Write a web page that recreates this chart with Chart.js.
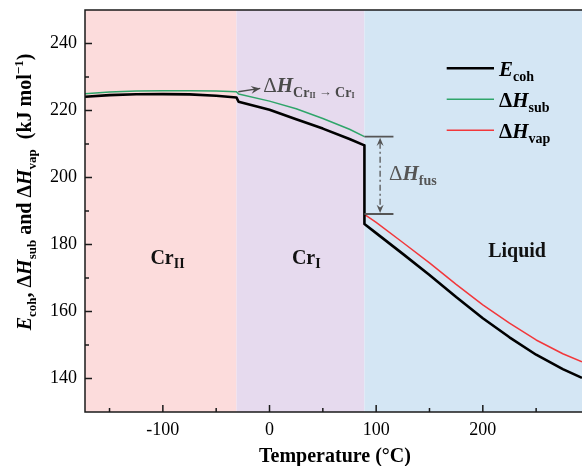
<!DOCTYPE html>
<html>
<head>
<meta charset="utf-8">
<script src="https://cdn.jsdelivr.net/npm/chart.js@4.4.0/dist/chart.umd.min.js"></script>
<style>
  html, body { margin: 0; padding: 0; background: #fff; }
  canvas { display: block; }
</style>
</head>
<body>
<canvas id="cohChart" width="582" height="466"></canvas>
<script>
// E_coh (black) - solid phases, step at Cr_II -> Cr_I, drop at melting
var tempCoh = [-173, -150, -125, -100, -75, -50, -31, -29, 0, 25, 50, 75, 89, 89, 100, 125, 150, 175, 200, 225, 250, 275, 293];
var eCoh    = [224.1, 224.6, 224.85, 224.9, 224.8, 224.4, 223.9, 222.6, 220.2, 217.4, 214.6, 211.5, 209.6, 186.1, 183.4, 177.2, 170.9, 164.3, 158.0, 152.3, 147.1, 142.8, 140.2];

// dH_sub (green)
var tempSub = [-173, -150, -125, -100, -75, -50, -31, -29, 0, 25, 50, 75, 89];
var hSub    = [225.0, 225.5, 225.8, 225.9, 225.9, 225.8, 225.6, 224.9, 222.8, 220.5, 217.6, 214.4, 212.2];

// dH_vap (red)
var tempVap = [89, 100, 125, 150, 175, 200, 225, 250, 275, 293];
var hVap    = [189.0, 186.6, 180.6, 174.5, 168.1, 162.0, 156.5, 151.5, 147.4, 145.0];

var phaseEdges  = [-173, -31, 89, 293];
var phaseColors = ['#fcdcdc', '#e6daee', '#d4e6f4'];

var xTicks = [-100, 0, 100, 200];
var xMinor = [-150, -50, 50, 150, 250];
var yTicks = [140, 160, 180, 200, 220, 240];
var yMinor = [150, 170, 190, 210, 230];

var hFus = [212.2, 189.1];   // bracket ends for dH_fus

function pts(xs, ys) {
    return xs.map(function (x, i) { return { x: x, y: ys[i] }; });
}

var SERIF = '"Liberation Serif", "Times New Roman", serif';
function fnt(size, style) { return (style || '') + ' ' + size + 'px ' + SERIF; }

function rich(ctx, parts, x, y, align) {
    var w = 0;
    parts.forEach(function (p) { ctx.font = p.f; w += ctx.measureText(p.t).width; });
    var cx = align === 'center' ? x - w / 2 : x;
    parts.forEach(function (p) {
        ctx.font = p.f;
        ctx.fillText(p.t, cx, y + (p.dy || 0));
        cx += ctx.measureText(p.t).width;
    });
}

function arrowHead(ctx, x, y, ang, size) {
    ctx.beginPath();
    ctx.moveTo(x, y);
    ctx.lineTo(x - size * Math.cos(ang - 0.4), y - size * Math.sin(ang - 0.4));
    ctx.lineTo(x - size * 0.6 * Math.cos(ang), y - size * 0.6 * Math.sin(ang));
    ctx.lineTo(x - size * Math.cos(ang + 0.4), y - size * Math.sin(ang + 0.4));
    ctx.closePath();
    ctx.fill();
}

var legendParts = [
    [{ t: 'E', f: fnt(21, 'italic bold') }, { t: 'coh', f: fnt(14, 'bold'), dy: 5 }],
    [{ t: 'Δ', f: fnt(21, 'bold') }, { t: 'H', f: fnt(21, 'italic bold') }, { t: 'sub', f: fnt(14, 'bold'), dy: 5 }],
    [{ t: 'Δ', f: fnt(21, 'bold') }, { t: 'H', f: fnt(21, 'italic bold') }, { t: 'vap', f: fnt(14, 'bold'), dy: 5 }]
];

var deco = {
    id: 'deco',
    beforeDatasetsDraw: function (chart) {
        var ctx = chart.ctx, a = chart.chartArea, xs = chart.scales.x;
        ctx.save();
        for (var i = 0; i < phaseColors.length; i++) {
            var x0 = xs.getPixelForValue(phaseEdges[i]);
            var x1 = xs.getPixelForValue(phaseEdges[i + 1]);
            ctx.fillStyle = phaseColors[i];
            ctx.fillRect(x0, a.top, x1 - x0, a.bottom - a.top);
        }
        ctx.restore();
    },
    afterDatasetsDraw: function (chart) {
        var ctx = chart.ctx, a = chart.chartArea, xs = chart.scales.x, ys = chart.scales.y;
        var X = function (v) { return xs.getPixelForValue(v); };
        var Y = function (v) { return ys.getPixelForValue(v); };
        ctx.save();

        // frame + inward ticks
        ctx.strokeStyle = '#1a1a1a';
        ctx.lineWidth = 1.5;
        ctx.beginPath();
        ctx.moveTo(a.right + 2, a.top); ctx.lineTo(a.left, a.top);
        ctx.lineTo(a.left, a.bottom); ctx.lineTo(a.right + 2, a.bottom);
        ctx.stroke();
        ctx.beginPath();
        xTicks.forEach(function (v) { ctx.moveTo(X(v), a.bottom); ctx.lineTo(X(v), a.bottom - 7); });
        xMinor.forEach(function (v) { ctx.moveTo(X(v), a.bottom); ctx.lineTo(X(v), a.bottom - 4); });
        yTicks.forEach(function (v) { ctx.moveTo(a.left, Y(v)); ctx.lineTo(a.left + 7, Y(v)); });
        yMinor.forEach(function (v) { ctx.moveTo(a.left, Y(v)); ctx.lineTo(a.left + 4, Y(v)); });
        ctx.stroke();

        // phase labels
        ctx.fillStyle = '#111';
        ctx.textBaseline = 'alphabetic';
        rich(ctx, [{ t: 'Cr', f: fnt(20, 'bold') }, { t: 'II', f: fnt(14, 'bold'), dy: 4 }], X(-111.7), Y(174.2));
        rich(ctx, [{ t: 'Cr', f: fnt(20, 'bold') }, { t: 'I', f: fnt(14, 'bold'), dy: 4 }], X(21), Y(174.2));
        rich(ctx, [{ t: 'Liquid', f: fnt(20, 'bold') }], X(205), Y(176.3));

        // dH Cr_II -> Cr_I annotation
        ctx.fillStyle = '#4a4a4a';
        ctx.strokeStyle = '#4a4a4a';
        ctx.lineWidth = 1.3;
        var ax0 = X(-29.3), ay0 = Y(225.6), ax1 = X(-8.7), ay1 = Y(226.6);
        ctx.beginPath(); ctx.moveTo(ax0, ay0); ctx.lineTo(ax1, ay1); ctx.stroke();
        arrowHead(ctx, ax1, ay1, Math.atan2(ay1 - ay0, ax1 - ax0), 10);
        rich(ctx, [
            { t: 'Δ', f: fnt(21) }, { t: 'H', f: fnt(21, 'italic bold') },
            { t: 'Cr', f: fnt(14, 'bold'), dy: 5 }, { t: 'II', f: fnt(8, 'bold'), dy: 6 },
            { t: ' → ', f: fnt(13), dy: 4 },
            { t: 'Cr', f: fnt(14, 'bold'), dy: 5 }, { t: 'I', f: fnt(8, 'bold'), dy: 6 }
        ], X(-5.9), Y(225.4));

        // dH_fus bracket
        ctx.strokeStyle = '#555';
        ctx.fillStyle = '#555';
        ctx.lineWidth = 1.8;
        ctx.beginPath();
        hFus.forEach(function (v) { ctx.moveTo(X(89), Y(v)); ctx.lineTo(X(116.2), Y(v)); });
        ctx.stroke();
        var bx = X(103.7);
        ctx.lineWidth = 1.3;
        ctx.setLineDash([6, 3, 2, 3]);
        ctx.beginPath(); ctx.moveTo(bx, Y(hFus[0]) + 6); ctx.lineTo(bx, Y(hFus[1]) - 6); ctx.stroke();
        ctx.setLineDash([]);
        arrowHead(ctx, bx, Y(hFus[0]) + 1, -Math.PI / 2, 9);
        arrowHead(ctx, bx, Y(hFus[1]) - 1, Math.PI / 2, 9);
        rich(ctx, [
            { t: 'Δ', f: fnt(21) }, { t: 'H', f: fnt(21, 'italic bold') },
            { t: 'fus', f: fnt(14, 'bold'), dy: 5 }
        ], X(112), Y(199.2));

        // legend
        chart.data.datasets.forEach(function (ds, i) {
            var ly = 68.3 + i * 31;
            ctx.strokeStyle = ds.borderColor;
            ctx.lineWidth = ds.borderWidth;
            ctx.beginPath(); ctx.moveTo(446.7, ly); ctx.lineTo(494, ly); ctx.stroke();
            ctx.fillStyle = '#000';
            rich(ctx, legendParts[i], 499, ly + 7.5);
        });

        // axis titles
        ctx.fillStyle = '#000';
        rich(ctx, [{ t: 'Temperature (°C)', f: fnt(20, 'bold') }], 335, 462, 'center');
        ctx.translate(31, 192);
        ctx.rotate(-Math.PI / 2);
        rich(ctx, [
            { t: 'E', f: fnt(20, 'italic bold') }, { t: 'coh', f: fnt(13, 'bold'), dy: 5 },
            { t: ', ', f: fnt(20, 'bold') },
            { t: 'Δ', f: fnt(20, 'bold') }, { t: 'H', f: fnt(20, 'italic bold') }, { t: 'sub', f: fnt(13, 'bold'), dy: 5 },
            { t: ' and ', f: fnt(20, 'bold') },
            { t: 'Δ', f: fnt(20, 'bold') }, { t: 'H', f: fnt(20, 'italic bold') }, { t: 'vap', f: fnt(13, 'bold'), dy: 5 },
            { t: '  (kJ mol', f: fnt(20, 'bold') }, { t: '−1', f: fnt(13, 'bold'), dy: -8 },
            { t: ')', f: fnt(20, 'bold') }
        ], 0, 0, 'center');
        ctx.restore();
    }
};

var ctx = document.getElementById('cohChart').getContext('2d');

var cohChart = new Chart(ctx, {
    type: 'line',
    data: {
        datasets: [{
            label: 'E_coh',
            data: pts(tempCoh, eCoh),
            borderColor: '#000000',
            borderWidth: 2.6
        }, {
            label: 'dH_sub',
            data: pts(tempSub, hSub),
            borderColor: '#2fa56a',
            borderWidth: 1.5
        }, {
            label: 'dH_vap',
            data: pts(tempVap, hVap),
            borderColor: '#f2373a',
            borderWidth: 1.5
        }]
    },
    options: {
        responsive: false,
        animation: false,
        devicePixelRatio: 1,
        layout: { padding: { top: 10, left: 0, right: 0, bottom: 0 } },
        elements: { point: { radius: 0 }, line: { tension: 0, borderJoinStyle: 'round' } },
        plugins: {
            legend: { display: false },
            tooltip: { enabled: false }
        },
        scales: {
            x: {
                type: 'linear',
                min: -173,
                max: 293,
                afterBuildTicks: function (s) { s.ticks = xTicks.map(function (v) { return { value: v }; }); },
                afterFit: function (s) { s.height = 54; s.paddingLeft = 0; s.paddingRight = 0; },
                grid: { display: false, drawTicks: false },
                border: { display: false },
                ticks: { padding: 7, color: '#000', font: { family: SERIF, size: 18 }, maxRotation: 0 }
            },
            y: {
                min: 130,
                max: 250,
                afterBuildTicks: function (s) { s.ticks = yTicks.map(function (v) { return { value: v }; }); },
                afterFit: function (s) { s.width = 85; s.paddingTop = 0; s.paddingBottom = 0; },
                grid: { display: false, drawTicks: false },
                border: { display: false },
                ticks: { padding: 8, color: '#000', font: { family: SERIF, size: 18 } }
            }
        }
    },
    plugins: [deco]
});
</script>
</body>
</html>
